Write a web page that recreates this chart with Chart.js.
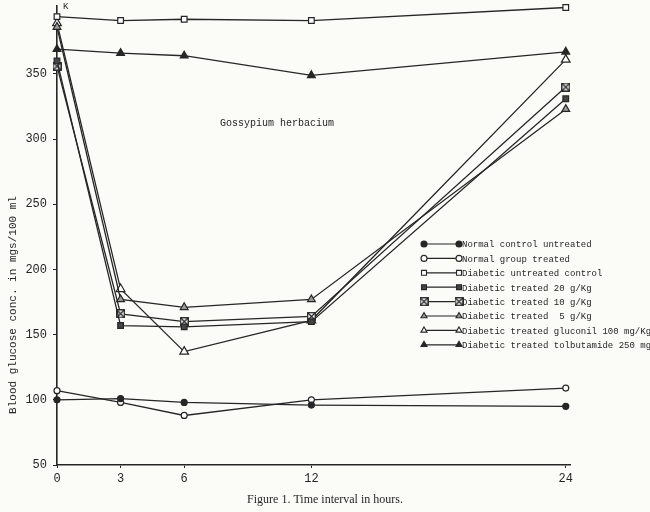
<!DOCTYPE html>
<html>
<head>
<meta charset="utf-8">
<script src="https://cdn.jsdelivr.net/npm/chart.js@4.4.1/dist/chart.umd.min.js"></script>
<style>
  body { margin: 0; background: #fbfbf7; }
  #wrap { width: 650px; height: 512px; position: relative; }
</style>
</head>
<body>
<div id="wrap"><canvas id="myChart"></canvas></div>
<script>
// time points (hours) and blood glucose (mg/100 ml)
var hours = [0, 3, 6, 12, 24];
var normalControl = [100, 101, 98, 96, 95];
var normalTreated = [107, 98, 88, 100, 109];
var diabeticControl = [394, 391, 392, 391, 401];
var treated20 = [360, 157, 156, 160, 331];
var treated10 = [356, 166, 160, 164, 340];
var treated5 = [386, 177, 171, 177, 323];
var gluconil = [389, 185, 137, 161, 361];
var tolbutamide = [369, 366, 364, 349, 367];

var xTicks = [0, 3, 6, 12, 24];
var yTicks = [50, 100, 150, 200, 250, 300, 350];

var seriesLabels = [
  "Normal control untreated",
  "Normal group treated",
  "Diabetic untreated control",
  "Diabetic treated 20 g/Kg",
  "Diabetic treated 10 g/Kg",
  "Diabetic treated  5 g/Kg",
  "Diabetic treated gluconil 100 mg/Kg",
  "Diabetic treated tolbutamide 250 mg/Kg",
];

var ink = "#262626";

// crossed square marker for 10 g/Kg
var crossBox = document.createElement("canvas");
crossBox.width = 9;
crossBox.height = 9;
(function () {
  var c = crossBox.getContext("2d");
  c.fillStyle = "#fff";
  c.fillRect(0.5, 0.5, 8, 8);
  c.strokeStyle = ink;
  c.lineWidth = 1.3;
  c.strokeRect(0.7, 0.7, 7.6, 7.6);
  c.beginPath();
  c.moveTo(1, 1); c.lineTo(8, 8);
  c.moveTo(8, 1); c.lineTo(1, 8);
  c.stroke();
})();

function pts(arr) {
  return arr.map(function (v, i) { return { x: hours[i], y: v }; });
}

function serie(label, arr, style, fill, radius) {
  return {
    label: label,
    data: pts(arr),
    borderColor: ink,
    backgroundColor: ink,
    borderWidth: 1.3,
    pointStyle: style,
    pointRadius: radius,
    pointBackgroundColor: fill,
    pointBorderColor: ink,
    pointBorderWidth: 1.2,
    tension: 0,
    clip: false,
  };
}

var datasets = [
  serie(seriesLabels[0], normalControl, "circle", ink, 3),
  serie(seriesLabels[1], normalTreated, "circle", "#fff", 3),
  serie(seriesLabels[2], diabeticControl, "rect", "#fff", 4),
  serie(seriesLabels[3], treated20, "rect", "#444", 4),
  serie(seriesLabels[4], treated10, crossBox, "#fff", 4),
  serie(seriesLabels[5], treated5, "triangle", "#999", 4.5),
  serie(seriesLabels[6], gluconil, "triangle", "#fff", 5),
  serie(seriesLabels[7], tolbutamide, "triangle", ink, 4.5),
];

var textPlugin = {
  id: "figureText",
  afterDraw: function (chart) {
    var ctx = chart.ctx;
    ctx.save();
    ctx.fillStyle = ink;

    // inner title
    ctx.font = "10px 'Liberation Mono'";
    ctx.textAlign = "left";
    ctx.textBaseline = "middle";
    ctx.fillText("Gossypium herbacium", 220, 123);

    // axis break mark
    ctx.font = "9px 'Liberation Mono'";
    ctx.fillText("K", 63, 7);

    // y title
    ctx.save();
    ctx.translate(13, 305);
    ctx.rotate(-Math.PI / 2);
    ctx.font = "11px 'Liberation Mono'";
    ctx.textAlign = "center";
    ctx.fillText("Blood glucose conc. in mgs/100 ml", 0, 0);
    ctx.restore();

    // caption
    ctx.font = "12px 'Liberation Serif'";
    ctx.textAlign = "center";
    ctx.fillText("Figure 1. Time interval in hours.", 325, 500);

    // legend: marker - line - marker, then label
    ctx.font = "9px 'Liberation Mono'";
    ctx.textAlign = "left";
    chart.data.datasets.forEach(function (ds, i) {
      var y = 244 + i * 14.4;
      ctx.strokeStyle = ink;
      ctx.lineWidth = 1.2;
      ctx.beginPath();
      ctx.moveTo(424, y);
      ctx.lineTo(459, y);
      ctx.stroke();
      [424, 459].forEach(function (x) {
        ctx.fillStyle = ds.pointBackgroundColor;
        ctx.strokeStyle = ink;
        ctx.lineWidth = 1.1;
        Chart.helpers.drawPoint(ctx, {
          pointStyle: ds.pointStyle,
          radius: Math.min(ds.pointRadius, 3.5),
          borderWidth: 1.1,
          rotation: 0,
        }, x, y);
      });
      ctx.fillStyle = ink;
      ctx.fillText(ds.label, 462, y + 1);
    });
    ctx.restore();
  },
};

var ctx = document.getElementById("myChart").getContext("2d");
new Chart(ctx, {
  type: "line",
  data: { datasets: datasets },
  options: {
    responsive: true,
    maintainAspectRatio: false,
    animation: false,
    layout: { padding: { top: 3, right: 80, left: 0, bottom: 0 } },
    plugins: {
      legend: { display: false },
      tooltip: { enabled: false },
    },
    scales: {
      x: {
        type: "linear",
        min: 0,
        max: 24.2,
        afterBuildTicks: function (s) {
          s.ticks = xTicks.map(function (v) { return { value: v }; });
        },
        afterFit: function (s) {
          s.height = 47;
          s.paddingLeft = 0;
          s.paddingRight = 0;
        },
        grid: { drawOnChartArea: false, tickLength: 3, color: ink },
        border: { color: ink, width: 1.6 },
        ticks: {
          color: ink,
          padding: 4,
          maxRotation: 0,
          font: { family: "Liberation Mono", size: 12 },
        },
      },
      y: {
        type: "linear",
        min: 50,
        max: 402,
        afterBuildTicks: function (s) {
          s.ticks = yTicks.map(function (v) { return { value: v }; });
        },
        afterFit: function (s) {
          s.width = 57;
          s.paddingTop = 0;
          s.paddingBottom = 0;
        },
        grid: { drawOnChartArea: false, tickLength: 4, color: ink },
        border: { color: ink, width: 1.6 },
        ticks: {
          color: ink,
          padding: 6,
          font: { family: "Liberation Mono", size: 12 },
        },
      },
    },
  },
  plugins: [textPlugin],
});
</script>
</body>
</html>
